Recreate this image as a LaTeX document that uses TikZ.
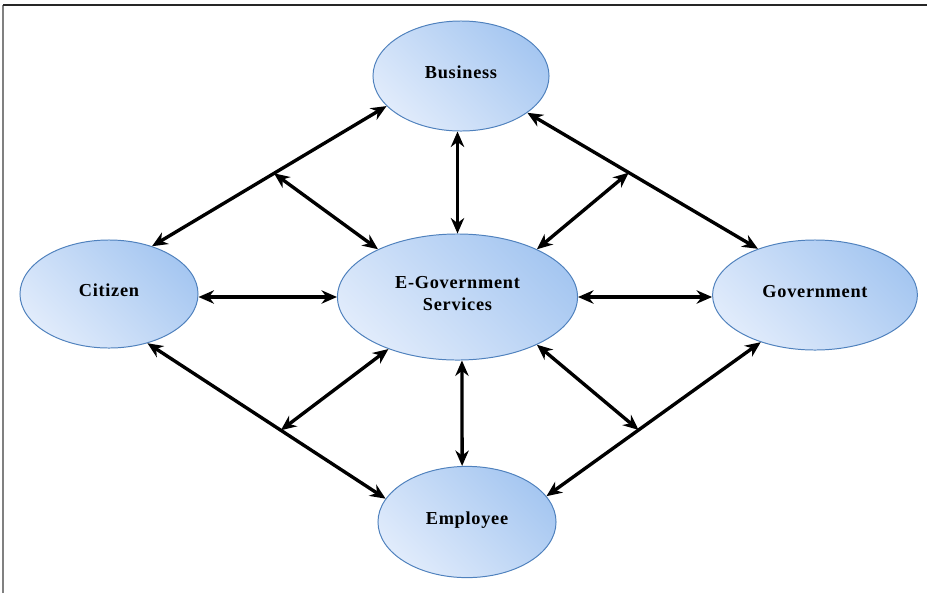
\documentclass[tikz,border=0pt]{standalone}
\usepackage{fontspec}
\setmainfont{Liberation Serif}
\usetikzlibrary{shapes.geometric,arrows.meta}
\definecolor{ellLight}{RGB}{224,235,251}
\definecolor{ellDark}{RGB}{166,199,241}
\definecolor{ellLine}{RGB}{79,129,189}
\newcommand{\ellfont}{\fontsize{13}{15}\selectfont\bfseries\addfontfeature{LetterSpace=4}}

\begin{document}
\begin{tikzpicture}[x=0.025cm, y=-0.025cm,
    actor/.style={ellipse, draw=ellLine, line width=0.7pt, left color=ellLight, right color=ellDark, shading angle=135, inner sep=0pt, align=center, text depth=5pt, font=\ellfont},
    link/.style={black, line width=2.4pt, {Stealth[length=11pt,width=9.5pt]}-{Stealth[length=11pt,width=9.5pt]}}]
        \useasboundingbox (0,0) rectangle (927,593);
        \draw[gray, line width=1pt] (3,593) -- (3,5);
        \draw[black!85, line width=1pt] (3,5) -- (927,5);

        \node[actor, minimum width=4.4cm, minimum height=2.75cm] (bus) at (461,76) {Business};
        \node[actor, minimum width=6cm, minimum height=3.15cm] (egov) at (457.5,297) {E-Government\\Services};
        \node[actor, minimum width=4.45cm, minimum height=2.7cm] (cit) at (109,294) {Citizen};
        \node[actor, minimum width=5.12cm, minimum height=2.75cm] (gov) at (815,295) {Government};
        \node[actor, minimum width=4.45cm, minimum height=2.78cm] (emp) at (467,522) {Employee};

        \draw[link] (cit.48) -- coordinate[pos=.52] (cb) (bus.202);
        \draw[link] (bus.331) -- coordinate[pos=.44] (bg) (gov.141);
        \draw[link] (cit.308) -- coordinate[pos=.56] (ce) (emp.164);
        \draw[link] (gov.221) -- coordinate[pos=.57] (ge) (emp.18);
        \draw[link] (egov.north) -- (egov.north |- bus.south);
        \draw[link] (egov.274) -- (emp.95);
        \draw[link] (egov.west -| cit.east) -- (egov.west);
        \draw[link] (egov.east) -- (egov.east -| gov.west);
        \draw[link] (cb) -- (egov.149);
        \draw[link] (bg) -- (egov.31);
        \draw[link] (ce) -- (egov.217);
        \draw[link] (ge) -- (egov.329);
\end{tikzpicture}
\end{document}
